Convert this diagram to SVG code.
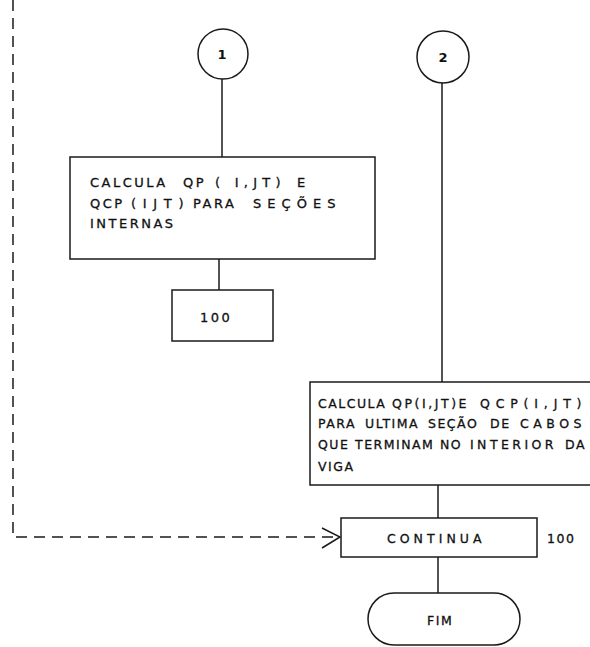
<svg xmlns="http://www.w3.org/2000/svg" width="590" height="647" viewBox="0 0 590 647">
<style>
.s{fill:none;stroke:#1a1a1a;stroke-width:1.5}
.d{fill:none;stroke:#1a1a1a;stroke-width:1.5;stroke-dasharray:11 7}
.t{font-family:"DejaVu Sans","Liberation Sans",sans-serif;font-size:12.5px;fill:#111;stroke:#111;stroke-width:0.3;white-space:pre;letter-spacing:1.5px}
.w{font-size:13px;letter-spacing:2.5px}
.n{font-family:"DejaVu Sans","Liberation Sans",sans-serif;font-size:13px;font-weight:bold;fill:#111;text-anchor:middle}
</style>
<rect width="590" height="647" fill="#fff"/>
<g id="connectors">
<path class="d" d="M13,0 V537 H338"/>
<path class="s" d="M322,528 L340,537 L322,548"/>
<path class="s" d="M222,79 V157"/>
<path class="s" d="M219,259 V290"/>
<path class="s" d="M442,83 V382"/>
<path class="s" d="M438,485 V518"/>
<path class="s" d="M438,557 V593"/>
</g>
<g id="c1">
<circle class="s" cx="223" cy="54" r="25"/>
<text class="n" x="222" y="59">1</text>
</g>
<g id="c2">
<circle class="s" cx="443" cy="57" r="26"/>
<text class="n" x="443" y="62">2</text>
</g>
<g id="box1">
<rect class="s" x="70" y="157" width="305" height="102"/>
<text class="t w" x="90" y="187">CALCULA</text>
<text class="t w" x="183" y="187">QP</text>
<text class="t w" x="215" y="187" textLength="68" lengthAdjust="spacing">( I,JT)</text>
<text class="t w" x="297" y="187">E</text>
<text class="t w" x="90" y="208">QCP</text>
<text class="t w" x="131" y="208" textLength="55" lengthAdjust="spacing">(IJT)</text>
<text class="t w" x="193" y="208">PARA</text>
<text class="t w" x="253" y="208" textLength="85" lengthAdjust="spacing">SEÇÕES</text>
<text class="t w" x="90" y="228">INTERNAS</text>
</g>
<g id="box100">
<rect class="s" x="172" y="290" width="101" height="51"/>
<text class="t w" x="200" y="322">100</text>
</g>
<g id="box2">
<path class="s" d="M592,382 H310 V485 H592"/>
<text class="t" x="318" y="408">CALCULA</text>
<text class="t" x="392" y="408" textLength="76" lengthAdjust="spacing">QP(I,JT)E</text>
<text class="t" x="480" y="408" textLength="103" lengthAdjust="spacing">QCP(I,JT)</text>
<text class="t" x="318" y="428">PARA</text>
<text class="t" x="365" y="428">ULTIMA</text>
<text class="t" x="428" y="428">SEÇÃO</text>
<text class="t" x="490" y="428">DE</text>
<text class="t" x="520" y="428" textLength="63" lengthAdjust="spacing">CABOS</text>
<text class="t" x="318" y="449">QUE</text>
<text class="t" x="355" y="449">TERMINAM</text>
<text class="t" x="440" y="449">NO</text>
<text class="t" x="470" y="449" textLength="85" lengthAdjust="spacing">INTERIOR</text>
<text class="t" x="565" y="449">DA</text>
<text class="t" x="318" y="471">VIGA</text>
</g>
<g id="continua">
<rect class="s" x="341" y="518" width="196" height="39"/>
<text class="t" x="387" y="543" textLength="96" lengthAdjust="spacing">CONTINUA</text>
<text class="t" x="547" y="543">100</text>
</g>
<g id="fim">
<rect class="s" x="368" y="593" width="152" height="52" rx="26"/>
<text class="t" x="427" y="625">FIM</text>
</g>
</svg>
